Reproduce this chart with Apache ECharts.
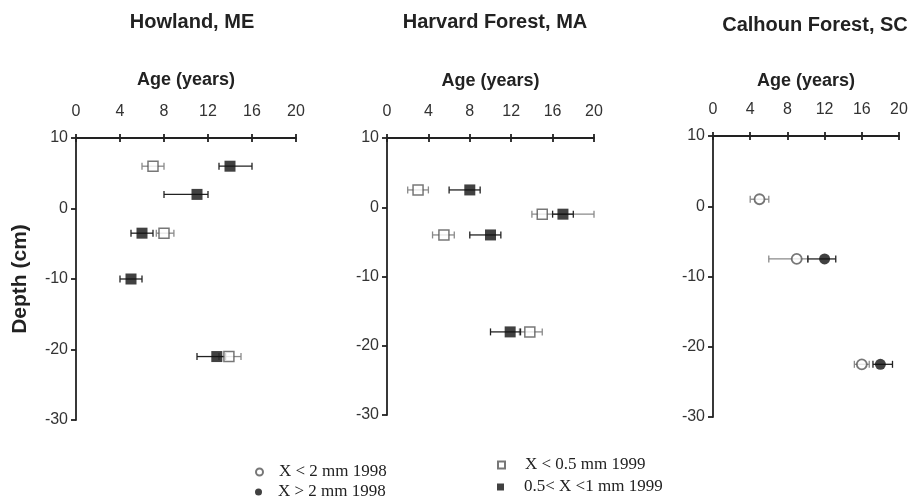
<!DOCTYPE html>
<html><head><meta charset="utf-8">
<script src="https://cdn.jsdelivr.net/npm/echarts@6/dist/echarts.min.js"></script>
<style>html,body{margin:0;padding:0;background:#fff}#c{width:911px;height:497px}</style>
</head><body><div id="c"></div>
<script>
// ---------- data ----------
const panelTitles = ['Howland, ME', 'Harvard Forest, MA', 'Calhoun Forest, SC'];
const xTicks = [0, 4, 8, 12, 16, 20];
const yTicks = [-30, -20, -10, 0, 10];
const seriesNames = ['X < 2 mm 1998', 'X > 2 mm 1998', 'X < 0.5 mm 1999', '0.5< X <1 mm 1999'];

// Howland, ME
const howOpenSqDepth = [6, -3.5, -21];
const howOpenSqAge   = [7, 8, 13.9];
const howOpenSqLow   = [6, 7.3, 13];
const howOpenSqHigh  = [8, 8.9, 15];
const howFillSqDepth = [6, 2, -3.5, -10, -21];
const howFillSqAge   = [14, 11, 6, 5, 12.8];
const howFillSqLow   = [13, 8, 5, 4, 11];
const howFillSqHigh  = [16, 12, 7, 6, 13.6];

// Harvard Forest, MA
const harOpenSqDepth = [2.5, -1, -4, -18];
const harOpenSqAge   = [3, 15, 5.5, 13.8];
const harOpenSqLow   = [2, 14, 4.4, 12.8];
const harOpenSqHigh  = [4, 20, 6.5, 15];
const harFillSqDepth = [2.5, -1, -4, -18];
const harFillSqAge   = [8, 17, 10, 11.9];
const harFillSqLow   = [6, 16, 8, 10];
const harFillSqHigh  = [9, 18, 11, 12.9];

// Calhoun Forest, SC
const calOpenCiDepth = [1, -7.5, -22.5];
const calOpenCiAge   = [5, 9, 16];
const calOpenCiLow   = [4, 6, 15.2];
const calOpenCiHigh  = [6, 10.2, 16.8];
const calFillCiDepth = [-7.5, -22.5];
const calFillCiAge   = [12, 18];
const calFillCiLow   = [10.2, 17.2];
const calFillCiHigh  = [13.2, 19.3];

// ---------- layout ----------
const grids = [
  {left: 76, top: 138, width: 220, height: 282},
  {left: 387, top: 138, width: 207, height: 277},
  {left: 713, top: 136, width: 186, height: 281}
];
const nameGaps = [49, 48, 46];
const FONT = 'Liberation Sans, Arial, sans-serif';
const SERIF = 'Liberation Serif, Times New Roman, serif';

const pts = (age, depth) => age.map((a, i) => [a, depth[i]]);
const errs = (lo, hi, depth) => lo.map((l, i) => [l, hi[i], depth[i]]);

function errSeries(gi, data, color, z) {
  return {
    type: 'custom', xAxisIndex: gi, yAxisIndex: gi, z: z, silent: true,
    encode: {x: [0, 1], y: 2},
    data: data,
    renderItem: function (params, api) {
      const a = api.coord([api.value(0), api.value(2)]);
      const b = api.coord([api.value(1), api.value(2)]);
      const h = 3.5;
      const st = {stroke: color, lineWidth: 1.3};
      return {type: 'group', children: [
        {type: 'line', shape: {x1: a[0], y1: a[1], x2: b[0], y2: b[1]}, style: st},
        {type: 'line', shape: {x1: a[0], y1: a[1] - h, x2: a[0], y2: a[1] + h}, style: st},
        {type: 'line', shape: {x1: b[0], y1: b[1] - h, x2: b[0], y2: b[1] + h}, style: st}
      ]};
    }
  };
}
const openStyle = {color: '#fff', borderColor: '#555', borderWidth: 1.5};
const openCircStyle = {color: '#fff', borderColor: '#555', borderWidth: 1.8};
const fillStyle = {color: '#111', borderColor: '#111', borderWidth: 0};

function scat(gi, name, symbol, size, style, data) {
  return {type: 'scatter', name: name, xAxisIndex: gi, yAxisIndex: gi, z: 5,
    symbol: symbol, symbolSize: size, itemStyle: style, data: data, silent: true};
}

const series = [
  errSeries(0, errs(howOpenSqLow, howOpenSqHigh, howOpenSqDepth), '#8a8a8a', 2),
  errSeries(0, errs(howFillSqLow, howFillSqHigh, howFillSqDepth), '#222', 3),
  scat(0, seriesNames[2], 'rect', 10, openStyle, pts(howOpenSqAge, howOpenSqDepth)),
  scat(0, seriesNames[3], 'rect', 11, fillStyle, pts(howFillSqAge, howFillSqDepth)),

  errSeries(1, errs(harOpenSqLow, harOpenSqHigh, harOpenSqDepth), '#8a8a8a', 2),
  errSeries(1, errs(harFillSqLow, harFillSqHigh, harFillSqDepth), '#222', 3),
  scat(1, seriesNames[2], 'rect', 10, openStyle, pts(harOpenSqAge, harOpenSqDepth)),
  scat(1, seriesNames[3], 'rect', 11, fillStyle, pts(harFillSqAge, harFillSqDepth)),

  errSeries(2, errs(calOpenCiLow, calOpenCiHigh, calOpenCiDepth), '#8a8a8a', 2),
  errSeries(2, errs(calFillCiLow, calFillCiHigh, calFillCiDepth), '#222', 3),
  scat(2, seriesNames[0], 'circle', 10, openCircStyle, pts(calOpenCiAge, calOpenCiDepth)),
  scat(2, seriesNames[1], 'circle', 11, fillStyle, pts(calFillCiAge, calFillCiDepth))
];

const axisLine = {show: true, onZero: false, lineStyle: {color: '#222', width: 1.8}};
const xAxes = [], yAxes = [];
grids.forEach((g, i) => {
  xAxes.push({
    type: 'value', gridIndex: i, position: 'top', min: xTicks[0], max: xTicks[xTicks.length - 1],
    interval: xTicks[1] - xTicks[0],
    name: 'Age (years)', nameLocation: 'middle', nameGap: nameGaps[i],
    nameTextStyle: {fontFamily: FONT, fontWeight: 'bold', fontSize: 18, color: '#222'},
    axisLine: axisLine,
    axisTick: {show: true, length: 4, lineStyle: {color: '#222', width: 1.8}},
    axisLabel: {fontFamily: FONT, fontSize: 16, color: '#333', margin: 18},
    splitLine: {show: false}
  });
  yAxes.push({
    type: 'value', gridIndex: i, min: yTicks[0], max: yTicks[yTicks.length - 1],
    interval: yTicks[1] - yTicks[0],
    name: i === 0 ? 'Depth (cm)' : '', nameLocation: 'middle', nameGap: 45, nameRotate: 90,
    nameTextStyle: {fontFamily: FONT, fontWeight: 'bold', fontSize: 21, color: '#222'},
    axisLine: axisLine,
    axisTick: {show: true, length: 5, lineStyle: {color: '#222', width: 1.8}},
    axisLabel: {fontFamily: FONT, fontSize: 16, color: '#333', margin: 8},
    splitLine: {show: false}
  });
});
// lower half of the crossing x ticks: a bottom axis shifted up onto the top edge
grids.forEach((g, i) => {
  xAxes.push({
    type: 'value', gridIndex: i, position: 'bottom', offset: -g.height,
    min: xTicks[0], max: xTicks[xTicks.length - 1], interval: xTicks[1] - xTicks[0],
    axisLine: {show: false, onZero: false}, axisLabel: {show: false}, splitLine: {show: false},
    axisTick: {show: true, inside: false, length: 4, lineStyle: {color: '#222', width: 1.8}}
  });
});

const titleCenters = [187, 490, 810];
const titleTops = [7, 7, 10];

function legendItem(name, left, top, padLeft) {
  return {data: [name], left: left, top: top, orient: 'vertical',
    itemWidth: 7, itemHeight: 7, selectedMode: false,
    textStyle: {fontFamily: SERIF, fontSize: 17, color: '#222', lineHeight: 18, padding: [0, 0, 0, padLeft]}};
}

const option = {
  backgroundColor: '#fff',
  animation: false,
  title: panelTitles.map((t, i) => ({
    text: t, left: titleCenters[i], top: titleTops[i], textAlign: 'center',
    textStyle: {fontFamily: FONT, fontWeight: 'bold', fontSize: 20, color: '#222'}
  })),
  grid: grids,
  xAxis: xAxes,
  yAxis: yAxes,
  legend: [
    legendItem(seriesNames[0], 250, 458, 11),
    legendItem(seriesNames[1], 250, 478, 11),
    legendItem(seriesNames[2], 492, 451, 15),
    legendItem(seriesNames[3], 492, 473, 15)
  ],
  series: series
};
const chart = echarts.init(document.getElementById('c'), null, {renderer: 'canvas'});
chart.setOption(option);
</script>
</body></html>
